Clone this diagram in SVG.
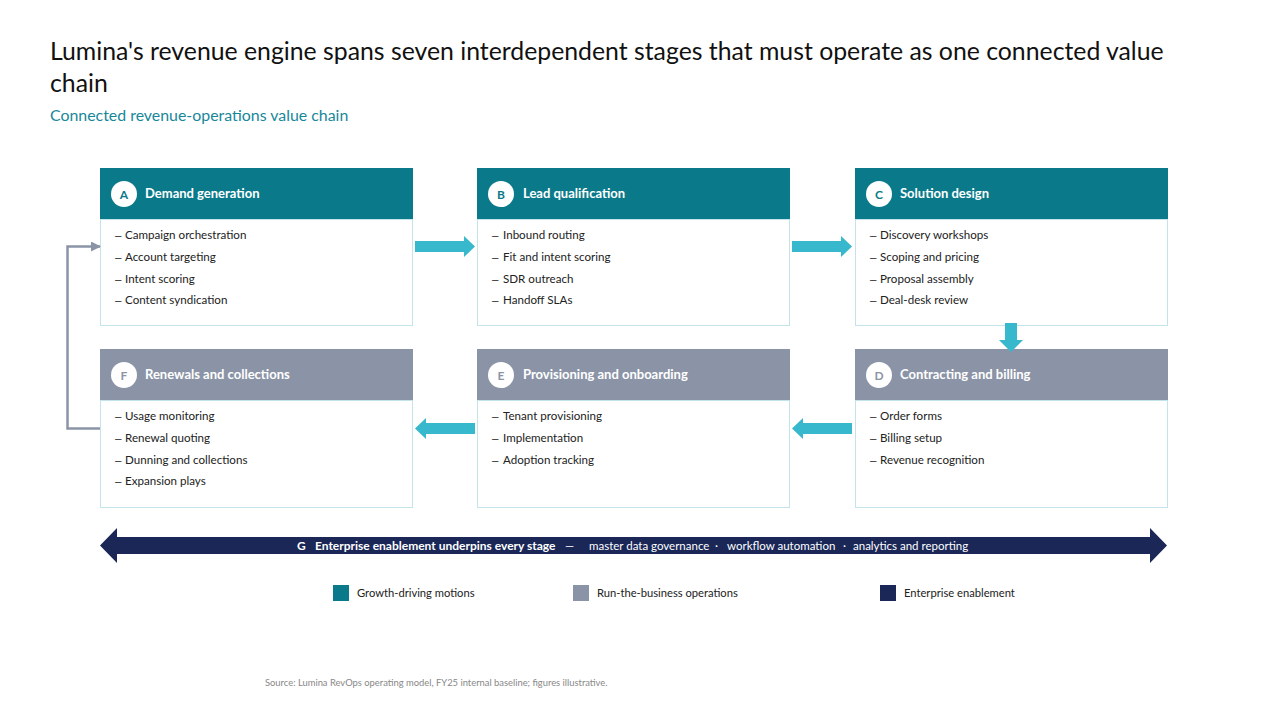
<svg xmlns="http://www.w3.org/2000/svg" width="1280" height="720" viewBox="0 0 1280 720">
<defs>
<style>
text{font-family:Lato,"Open Sans","Liberation Sans",sans-serif;}
.title{font-size:24.8px;fill:#111;}
.sub{font-size:15.9px;fill:#17879a;}
.hd{font-size:13px;font-weight:bold;fill:#fff;}
.badge{font-size:12px;font-weight:bold;text-anchor:middle;}
.li{font-size:11.6px;fill:#222;}
.dash{font-size:11.6px;fill:#222;font-family:"Liberation Sans",sans-serif;}
.body{fill:#fff;stroke:#c2e4ea;stroke-width:1;}
.teal{fill:#0a7a8a;}
.gray{fill:#8b94a7;}
.navy{fill:#1a2757;}
.flow{fill:#38b8cc;}
.leg{font-size:11.2px;fill:#222;}
.bar{font-size:11.5px;fill:#fff;}
</style>
<marker id="ah" viewBox="0 0 10 10" refX="9" refY="5" markerWidth="4" markerHeight="4" orient="auto" markerUnits="strokeWidth"><path d="M0,0 L10,5 L0,10 Z" fill="#8b94a7"/></marker>
</defs>
<rect width="1280" height="720" fill="#fff"/>
<text class="title" x="50" y="60">Lumina's revenue engine spans seven interdependent stages that must operate as one connected value</text>
<text class="title" x="50" y="92">chain</text>
<text class="sub" x="50" y="121">Connected revenue-operations value chain</text>

<g id="node-A">
<rect class="body" x="100.5" y="219.5" width="312" height="106"/>
<rect class="teal" x="100" y="168" width="313" height="51"/>
<circle cx="124" cy="194" r="13" fill="#fff"/>
<text class="badge" x="124" y="198.5" fill="#0a7a8a">A</text>
<text class="hd" x="145" y="198">Demand generation</text>
<text class="dash" x="115" y="239">–</text><text class="li" x="125" y="239">Campaign orchestration</text>
<text class="dash" x="115" y="261">–</text><text class="li" x="125" y="261">Account targeting</text>
<text class="dash" x="115" y="283">–</text><text class="li" x="125" y="283">Intent scoring</text>
<text class="dash" x="115" y="304">–</text><text class="li" x="125" y="304">Content syndication</text>
</g>
<g id="node-B">
<rect class="body" x="477.5" y="219.5" width="312" height="106"/>
<rect class="teal" x="477" y="168" width="313" height="51"/>
<circle cx="501" cy="194" r="13" fill="#fff"/>
<text class="badge" x="501" y="198.5" fill="#0a7a8a">B</text>
<text class="hd" x="523" y="198">Lead qualification</text>
<text class="dash" x="492" y="239">–</text><text class="li" x="503" y="239">Inbound routing</text>
<text class="dash" x="492" y="261">–</text><text class="li" x="503" y="261">Fit and intent scoring</text>
<text class="dash" x="492" y="283">–</text><text class="li" x="503" y="283">SDR outreach</text>
<text class="dash" x="492" y="304">–</text><text class="li" x="503" y="304">Handoff SLAs</text>
</g>
<g id="node-C">
<rect class="body" x="855.5" y="219.5" width="312" height="106"/>
<rect class="teal" x="855" y="168" width="313" height="51"/>
<circle cx="879" cy="194" r="13" fill="#fff"/>
<text class="badge" x="879" y="198.5" fill="#0a7a8a">C</text>
<text class="hd" x="900" y="198">Solution design</text>
<text class="dash" x="870" y="239">–</text><text class="li" x="880" y="239">Discovery workshops</text>
<text class="dash" x="870" y="261">–</text><text class="li" x="880" y="261">Scoping and pricing</text>
<text class="dash" x="870" y="283">–</text><text class="li" x="880" y="283">Proposal assembly</text>
<text class="dash" x="870" y="304">–</text><text class="li" x="880" y="304">Deal-desk review</text>
</g>
<g id="node-D">
<rect class="body" x="855.5" y="400.5" width="312" height="107"/>
<rect class="gray" x="855" y="349" width="313" height="51"/>
<circle cx="879" cy="375" r="13" fill="#fff"/>
<text class="badge" x="879" y="379.5" fill="#8b94a7">D</text>
<text class="hd" x="900" y="379">Contracting and billing</text>
<text class="dash" x="870" y="420">–</text><text class="li" x="880" y="420">Order forms</text>
<text class="dash" x="870" y="442">–</text><text class="li" x="880" y="442">Billing setup</text>
<text class="dash" x="870" y="464">–</text><text class="li" x="880" y="464">Revenue recognition</text>
</g>
<g id="node-E">
<rect class="body" x="477.5" y="400.5" width="312" height="107"/>
<rect class="gray" x="477" y="349" width="313" height="51"/>
<circle cx="501" cy="375" r="13" fill="#fff"/>
<text class="badge" x="501" y="379.5" fill="#8b94a7">E</text>
<text class="hd" x="523" y="379">Provisioning and onboarding</text>
<text class="dash" x="492" y="420">–</text><text class="li" x="503" y="420">Tenant provisioning</text>
<text class="dash" x="492" y="442">–</text><text class="li" x="503" y="442">Implementation</text>
<text class="dash" x="492" y="464">–</text><text class="li" x="503" y="464">Adoption tracking</text>
</g>
<g id="node-F">
<rect class="body" x="100.5" y="400.5" width="312" height="107"/>
<rect class="gray" x="100" y="349" width="313" height="51"/>
<circle cx="124" cy="375" r="13" fill="#fff"/>
<text class="badge" x="124" y="379.5" fill="#8b94a7">F</text>
<text class="hd" x="145" y="379">Renewals and collections</text>
<text class="dash" x="115" y="420">–</text><text class="li" x="125" y="420">Usage monitoring</text>
<text class="dash" x="115" y="442">–</text><text class="li" x="125" y="442">Renewal quoting</text>
<text class="dash" x="115" y="464">–</text><text class="li" x="125" y="464">Dunning and collections</text>
<text class="dash" x="115" y="485">–</text><text class="li" x="125" y="485">Expansion plays</text>
</g>

<g id="connectors">
<path class="flow" d="M415,241 H464 V236 L475,246.5 L464,257 V252 H415 Z"/>
<path class="flow" d="M792,241 H841 V236 L852,246.5 L841,257 V252 H792 Z"/>
<path class="flow" d="M1005,323 H1017 V340 H1023 L1011,352 L999,340 H1005 Z"/>
<path class="flow" d="M852,423 H803 V418 L792,428.5 L803,439 V434 H852 Z"/>
<path class="flow" d="M475,423 H426 V418 L415,428.5 L426,439 V434 H475 Z"/>
<path d="M100,428.5 H67.5 V246.5 H100" fill="none" stroke="#8b94a7" stroke-width="2.5" marker-end="url(#ah)"/>
</g>

<g id="node-G">
<path class="navy" d="M117,537 H1150 V528 L1167,545.5 L1150,563 V554 H117 V563 L100,545.5 L117,528 Z"/>
<text class="bar" y="549.5"><tspan x="297" font-weight="bold" font-size="12">G</tspan><tspan x="315" font-weight="bold" font-size="12">Enterprise enablement underpins every stage</tspan><tspan x="565">—</tspan><tspan x="589">master data governance</tspan><tspan x="715">·</tspan><tspan x="727">workflow automation</tspan><tspan x="843">·</tspan><tspan x="853">analytics and reporting</tspan></text>
</g>

<g id="legend">
<rect class="teal" x="333" y="585" width="16" height="16"/>
<text class="leg" x="357" y="597">Growth-driving motions</text>
<rect class="gray" x="573" y="585" width="16" height="16"/>
<text class="leg" x="597" y="597">Run-the-business operations</text>
<rect class="navy" x="880" y="585" width="16" height="16"/>
<text class="leg" x="904" y="597">Enterprise enablement</text>
</g>
<text x="265" y="686" font-size="9.4" fill="#888">Source: Lumina RevOps operating model, FY25 internal baseline; figures illustrative.</text>
</svg>
